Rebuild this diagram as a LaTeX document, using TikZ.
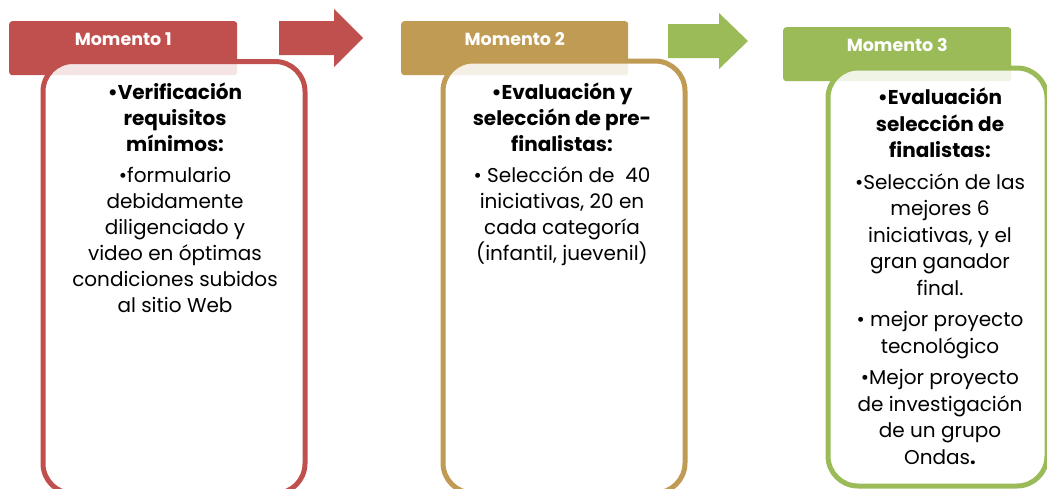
\documentclass[tikz,border=0pt]{standalone}
\usepackage{fontspec}
\setmainfont{Poppins}
\usetikzlibrary{positioning}
\definecolor{rojo}{HTML}{C0504D}
\definecolor{oro}{HTML}{BF9B53}
\definecolor{verde}{HTML}{9BBB59}

\tikzset{
  cabeza/.style={rectangle, rounded corners=3pt, anchor=north west, inner sep=0pt},
  titulo/.style={text=white, font=\bfseries\fontsize{17.5}{20}\selectfont},
  cuerpo/.style={rectangle, rounded corners=30pt, line width=5pt, fill=white, fill opacity=0.85, anchor=north west},
  texto/.style={align=center, anchor=north, inner sep=0pt, font=\fontsize{20}{26}\selectfont},
}

\begin{document}
\begin{tikzpicture}[x=1pt, y=-1pt]

\useasboundingbox (0,0) rectangle (1047,488);

% flechas
\fill[rojo] (279,21)--(334,21)--(334,9)--(363,38)--(334,67)--(334,55)--(279,55)--cycle;
\fill[verde] (668,24)--(719,24)--(719,13)--(748,41)--(719,69)--(719,58)--(668,58)--cycle;

% Momento 1
\node[cabeza, fill=rojo, minimum width=228pt, minimum height=54pt] (m1) at (9,21) {};
\node[titulo] (m1t) at ([yshift=9pt]m1.center) {Momento 1};
\node[cuerpo, draw=rojo, minimum width=262pt, minimum height=432pt] (c1) at (40.5,59) {};
\node[texto] (t1) at (175,83)
{\textbf{•Verificación}\\ \textbf{requisitos}\\ \textbf{mínimos:}\\[4.5pt]
•formulario\\ debidamente\\ diligenciado y\\ video en óptimas\\ condiciones subidos\\ al sitio Web};

% Momento 2
\node[cabeza, fill=oro, minimum width=227pt, minimum height=54pt] (m2) at (401,21) {};
\node[titulo] (m2t) at ([yshift=9pt]m2.center) {Momento 2};
\node[cuerpo, draw=oro, minimum width=242pt, minimum height=432pt] (c2) at (440.5,58.5) {};
\node[texto] (t2) at (562,83)
{\textbf{•Evaluación y}\\ \textbf{selección de pre-}\\ \textbf{finalistas:}\\[4.5pt]
• Selección de\ \ 40\\ iniciativas, 20 en\\ cada categoría\\ (infantil, juevenil)};

% Momento 3
\node[cabeza, fill=verde, minimum width=228pt, minimum height=54pt] (m3) at (783,27) {};
\node[titulo] (m3t) at ([yshift=9pt]m3.center) {Momento 3};
\node[cuerpo, draw=verde, minimum width=219pt, minimum height=418pt] (c3) at (825.5,65.5) {};
\node[texto, font=\fontsize{20}{26.5}\selectfont] (t3) at (940,88)
{\textbf{•Evaluación}\\ \textbf{selección de}\\ \textbf{finalistas:}\\[5pt]
•Selección de las\\ mejores 6\\ iniciativas, y el\\ gran ganador\\ final.\\[5pt]
• mejor proyecto\\ tecnológico\\[5pt]
•Mejor proyecto\\ de investigación\\ de un grupo\\ Ondas\textbf{.}};

\end{tikzpicture}
\end{document}
